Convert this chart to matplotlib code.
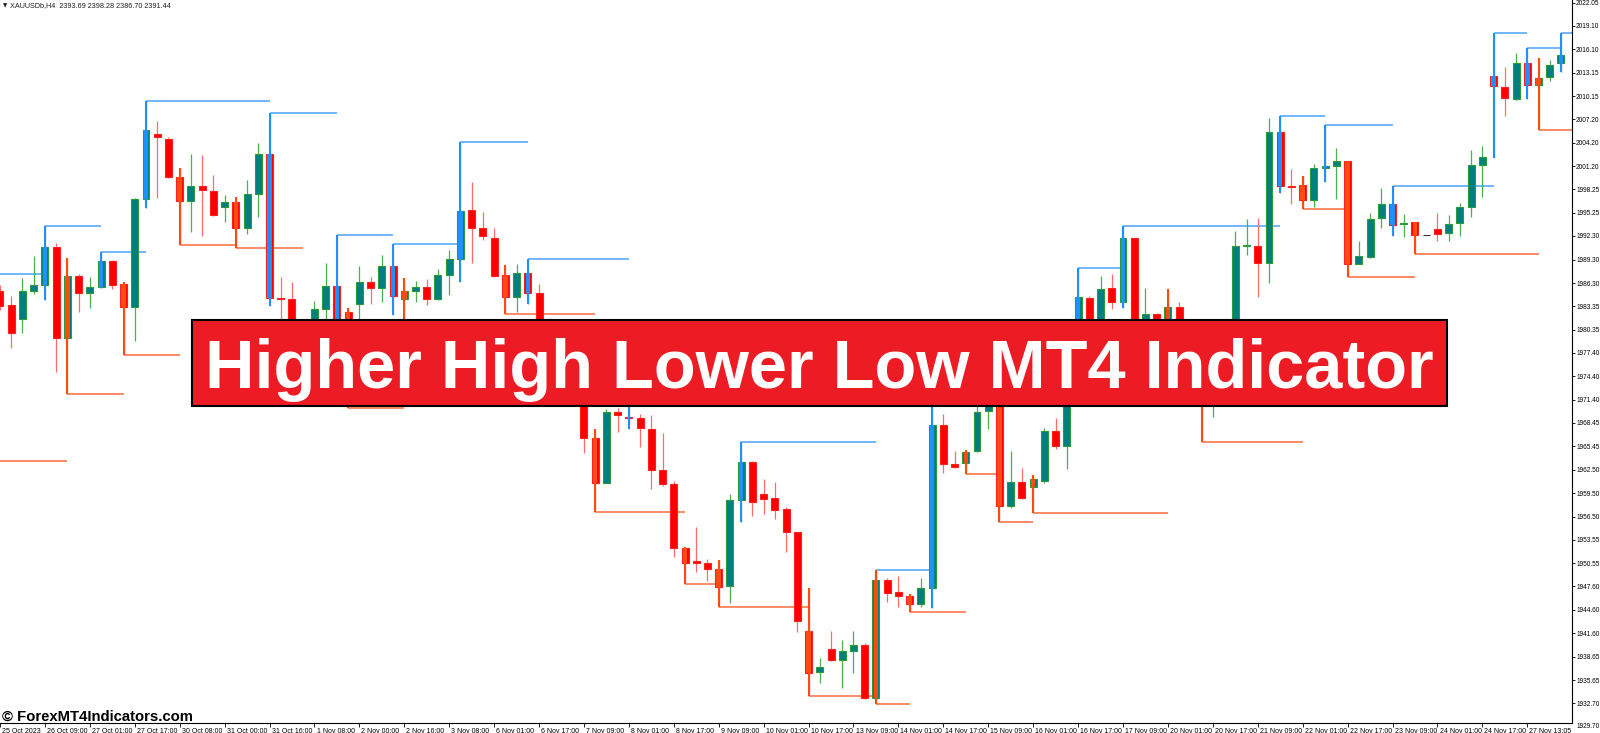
import matplotlib
matplotlib.use("Agg")
from matplotlib import pyplot as plt
from matplotlib.patches import Rectangle
from matplotlib.transforms import ScaledTranslation
import numpy as np

# XAUUSD H4 candles (bars hidden by the banner are guesses)
opens = [1985.32, 1983.45, 1981.67, 1985.28, 1986.00, 1990.85, 1979.33, 1987.20, 1984.99, 1985.75,
         1989.15, 1986.18, 1983.28, 1996.97, 2005.31, 2004.67, 1999.78, 1996.81, 1998.72, 1998.04,
         1996.04, 1996.59, 1993.28, 1997.65, 2002.71, 1984.43, 1984.22, 1979.00, 1977.00, 1982.94,
         1985.92, 1982.56, 1983.58, 1986.47, 1985.62, 1988.47, 1984.22, 1985.28, 1985.83, 1984.22,
         1987.37, 1989.32, 1995.61, 1993.36, 1992.00, 1987.32, 1984.56, 1987.54, 1985.07, 1978.00,
         1975.50, 1973.00, 1974.50, 1966.58, 1960.84, 1969.81, 1969.26, 1969.13, 1967.64, 1962.46,
         1960.67, 1952.55, 1950.85, 1950.55, 1949.83, 1947.70, 1958.63, 1963.52, 1959.35, 1958.84,
         1957.48, 1954.50, 1941.92, 1936.65, 1939.62, 1938.22, 1939.37, 1940.13, 1933.33, 1948.43,
         1946.85, 1946.38, 1945.32, 1947.45, 1968.20, 1963.22, 1963.31, 1964.88, 1969.98, 1973.00,
         1957.86, 1960.97, 1960.25, 1961.10, 1967.43, 1965.52, 1974.50, 1984.43, 1979.00, 1985.62,
         1983.84, 1992.09, 1979.50, 1982.31, 1978.00, 1983.20, 1977.00, 1974.00, 1971.50, 1976.00,
         1979.50, 1991.00, 1991.06, 1988.81, 2005.52, 1998.72, 1998.80, 1996.89, 2001.02, 2001.27,
         2001.86, 1988.73, 1989.58, 1994.55, 1996.34, 1993.79, 1994.04, 1992.42, 1993.15, 1992.64,
         1993.91, 1995.95, 2001.35, 2012.71, 2011.26, 2009.77, 2014.41, 2011.56, 2012.54, 2014.32]
highs = [1986.05, 1984.64, 1986.89, 1989.79, 1993.60, 1991.36, 1989.45, 1987.41, 1987.03, 1990.21,
         1989.24, 1986.47, 1997.10, 2009.56, 2006.97, 2004.88, 2000.93, 2002.76, 2002.59, 2000.08,
         1997.53, 1997.31, 1999.44, 2004.20, 2007.94, 1987.03, 1986.43, 1980.50, 1984.01, 1988.90,
         1992.43, 1983.16, 1988.51, 1987.03, 1989.87, 1991.24, 1986.90, 1986.56, 1986.77, 1988.05,
         1990.51, 2004.30, 1999.23, 1995.32, 1993.36, 1988.56, 1988.68, 1989.32, 1986.17, 1981.90,
         1976.50, 1976.00, 1975.50, 1967.64, 1970.19, 1970.32, 1974.50, 1969.60, 1969.47, 1967.13,
         1961.10, 1952.60, 1955.23, 1951.06, 1950.98, 1959.35, 1966.07, 1963.60, 1961.27, 1960.97,
         1957.69, 1954.60, 1947.36, 1938.43, 1941.92, 1940.77, 1941.92, 1940.35, 1949.70, 1948.64,
         1948.98, 1946.64, 1948.64, 1972.80, 1969.60, 1964.88, 1965.01, 1971.50, 1974.50, 1974.00,
         1964.88, 1962.75, 1961.82, 1967.77, 1969.05, 1976.00, 1988.17, 1984.69, 1987.24, 1987.45,
         1993.62, 1992.10, 1985.62, 1982.50, 1985.54, 1983.84, 1978.00, 1975.00, 1977.00, 1980.50,
         1992.93, 1994.47, 1994.64, 2007.39, 2007.65, 2000.85, 2000.00, 2001.48, 2006.46, 2003.48,
         2001.90, 1991.66, 1995.19, 1998.46, 1998.68, 1995.06, 1994.13, 1992.42, 1995.19, 1994.98,
         1996.55, 2003.27, 2003.78, 2018.15, 2013.81, 2015.60, 2016.32, 2014.96, 2014.75, 2018.15]
lows = [1982.86, 1978.05, 1979.88, 1984.86, 1984.14, 1975.00, 1972.10, 1982.65, 1983.16, 1985.62,
        1985.50, 1977.12, 1978.90, 1995.91, 1997.10, 1999.65, 1991.15, 1992.85, 1992.30, 1994.89,
        1994.13, 1990.73, 1992.55, 1994.68, 1983.41, 1980.95, 1977.50, 1972.50, 1976.00, 1980.80,
        1976.50, 1970.31, 1980.00, 1983.58, 1983.92, 1982.22, 1976.00, 1983.92, 1983.50, 1984.10,
        1984.77, 1986.39, 1988.81, 1991.79, 1987.03, 1982.31, 1982.56, 1983.62, 1976.00, 1974.00,
        1971.50, 1971.50, 1964.58, 1957.14, 1960.80, 1967.26, 1967.64, 1965.43, 1960.00, 1960.41,
        1951.40, 1947.87, 1949.49, 1948.30, 1945.02, 1945.45, 1955.87, 1956.59, 1956.84, 1956.16,
        1951.95, 1941.84, 1933.63, 1935.25, 1938.13, 1934.69, 1936.52, 1933.20, 1932.60, 1945.66,
        1945.02, 1944.39, 1944.94, 1944.81, 1962.03, 1962.75, 1961.95, 1964.80, 1967.64, 1955.87,
        1957.57, 1958.80, 1956.93, 1960.84, 1965.09, 1962.58, 1973.50, 1977.00, 1978.00, 1982.94,
        1983.07, 1976.50, 1977.50, 1976.00, 1974.50, 1975.50, 1972.00, 1966.00, 1969.17, 1974.50,
        1978.50, 1989.87, 1984.56, 1986.35, 1997.83, 1996.38, 1995.70, 1996.04, 1999.23, 1997.02,
        1987.11, 1988.70, 1989.50, 1993.36, 1992.30, 1992.21, 1990.00, 1992.42, 1991.66, 1991.66,
        1992.30, 1994.68, 1997.32, 2002.20, 2007.60, 2009.65, 2009.77, 2005.82, 2012.11, 2013.26]
closes = [1983.41, 1979.97, 1985.32, 1986.00, 1990.85, 1979.25, 1987.20, 1984.99, 1985.75, 1989.15,
          1986.09, 1983.28, 1996.97, 2005.82, 2004.88, 1999.78, 1996.81, 1998.72, 1998.12, 1994.98,
          1996.59, 1993.28, 1997.65, 2002.71, 1984.43, 1984.22, 1979.00, 1977.00, 1982.99, 1985.92,
          1978.00, 1976.50, 1986.47, 1985.62, 1988.47, 1984.64, 1985.28, 1985.83, 1984.22, 1987.37,
          1989.32, 1995.44, 1993.27, 1992.34, 1987.24, 1984.56, 1987.54, 1984.98, 1978.00, 1975.50,
          1973.00, 1975.00, 1966.58, 1960.84, 1969.81, 1969.47, 1969.05, 1967.77, 1962.46, 1960.63,
          1952.55, 1950.55, 1950.55, 1949.83, 1947.57, 1958.63, 1963.52, 1958.33, 1958.76, 1957.35,
          1954.59, 1943.20, 1936.52, 1937.29, 1938.22, 1939.37, 1940.13, 1933.33, 1948.43, 1946.72,
          1946.38, 1945.32, 1947.45, 1968.20, 1963.22, 1962.88, 1964.80, 1969.90, 1973.00, 1957.91,
          1960.97, 1958.84, 1961.27, 1967.43, 1965.52, 1974.50, 1984.56, 1979.00, 1985.54, 1983.84,
          1992.09, 1978.50, 1982.31, 1979.00, 1983.20, 1977.00, 1974.00, 1971.50, 1976.00, 1979.50,
          1991.02, 1991.10, 1988.90, 2005.52, 1998.72, 1998.55, 1996.89, 2000.93, 2001.27, 2001.86,
          1988.73, 1989.79, 1994.42, 1996.38, 1993.70, 1994.00, 1992.42, 1992.42, 1992.51, 1993.79,
          1995.95, 2001.35, 2002.42, 2011.43, 2009.86, 2014.41, 2011.56, 2012.41, 2014.11, 2015.38]

# indicator: bar that made the higher high / lower low and the bar where its level line stops
hh_bars = [4, 9, 13, 24, 30, 35, 41, 47, 56, 66, 78, 83, 96, 100, 114, 118, 124, 133, 136, 139]
hh_ends = [9, 13, 24, 30, 35, 41, 47, 56, 66, 78, 83, 96, 100, 114, 118, 124, 133, 136, 139, 140]
ll_bars = [6, 11, 16, 21, 27, 31, 36, 45, 53, 61, 64, 72, 78, 81, 86, 89, 92, 104, 107, 116, 120, 126, 137]
ll_ends = [11, 16, 21, 27, 31, 36, 45, 53, 61, 64, 72, 78, 81, 86, 89, 92, 104, 107, 116, 120, 126, 137, 140]
# levels left over from before the first visible bar
old_hh_level, old_hh_end = 1987.45, 4
old_ll_level, old_ll_end = 1963.54, 6

price_ticks = [2022.05, 2019.10, 2016.10, 2013.15, 2010.15, 2007.20, 2004.20, 2001.20, 1998.25,
               1995.25, 1992.30, 1989.30, 1986.30, 1983.35, 1980.35, 1977.40, 1974.40, 1971.40,
               1968.45, 1965.45, 1962.50, 1959.50, 1956.50, 1953.55, 1950.55, 1947.60, 1944.60,
               1941.60, 1938.65, 1935.65, 1932.70, 1929.70]
date_labels = ["25 Oct 2023", "26 Oct 09:00", "27 Oct 01:00", "27 Oct 17:00", "30 Oct 08:00",
               "31 Oct 00:00", "31 Oct 16:00", "1 Nov 08:00", "2 Nov 00:00", "2 Nov 16:00",
               "3 Nov 08:00", "6 Nov 01:00", "6 Nov 17:00", "7 Nov 09:00", "8 Nov 01:00",
               "8 Nov 17:00", "9 Nov 09:00", "10 Nov 01:00", "10 Nov 17:00", "13 Nov 09:00",
               "14 Nov 01:00", "14 Nov 17:00", "15 Nov 09:00", "16 Nov 01:00", "16 Nov 17:00",
               "17 Nov 09:00", "20 Nov 01:00", "20 Nov 17:00", "21 Nov 09:00", "22 Nov 01:00",
               "22 Nov 17:00", "23 Nov 09:00", "24 Nov 01:00", "24 Nov 17:00", "27 Nov 13:05"]
date_bars = list(range(0, 137, 4))

header = "XAUUSDb,H4  2393.69 2398.28 2386.70 2391.44"
title = "Higher High Lower Low MT4 Indicator"
watermark = "\u00a9 ForexMT4Indicators.com"

BULL_FILL, BULL_EDGE, BULL_WICK = "#007F7F", "#2A9A3A", "#4CAF50"
BEAR_FILL, BEAR_EDGE, BEAR_WICK = "#FF0000", "#FF2020", "#FF6B6B"
HH_COL, LL_COL = "#1E90FF", "#FF4A12"
HH_LINE, LL_LINE = "#4AA3FF", "#FF6A3D"

W, H = 1600, 733
fig = plt.figure(figsize=(W / 100, H / 100), dpi=100)
ax = fig.add_axes([0, 10 / H, 1572 / W, 723 / H])

o = np.array(opens)
hi = np.array(highs)
lo = np.array(lows)
c = np.array(closes)
x = np.arange(len(o))
up = c > o
doji = c == o

# level lines
ax.hlines(old_hh_level, -5, old_hh_end, color=HH_LINE, lw=1.1, zorder=1)
ax.hlines(old_ll_level, -5, old_ll_end, color=LL_LINE, lw=1.1, zorder=1)
for b, e in zip(hh_bars, hh_ends):
    ax.hlines(hi[b], b, e, color=HH_LINE, lw=1.1, zorder=1)
for b, e in zip(ll_bars, ll_ends):
    ax.hlines(lo[b], b, e, color=LL_LINE, lw=1.1, zorder=1)

# plain candles
wick_cols = np.where(up, BULL_WICK, BEAR_WICK)
ax.vlines(x, lo, hi, colors=wick_cols, lw=0.9, zorder=2)
body_w = 0.62
fills = np.where(up, BULL_FILL, BEAR_FILL)
edges = np.where(up, BULL_EDGE, BEAR_EDGE)
edges = np.where(doji, "#333333", edges)
ax.bar(x, c - o, bottom=o, width=body_w, color=fills, edgecolor=edges, linewidth=0.8, zorder=3)

# indicator paint on the marked bars
for bars, col in ((hh_bars, HH_COL), (ll_bars, LL_COL)):
    bars = np.array(bars)
    ax.vlines(bars, lo[bars], hi[bars], colors=col, lw=1.5, zorder=4)
    bot = np.minimum(o[bars], c[bars])
    ax.bar(bars, np.abs(c[bars] - o[bars]), bottom=bot, width=0.4, color=col, linewidth=0, zorder=4)

y_bottom = 2022.40 - 723 * 0.12755
ax.set_xlim(0, 1572 / 11.23)
ax.set_ylim(y_bottom, 2022.40)

for s in ["left", "top"]:
    ax.spines[s].set_visible(False)
ax.spines["right"].set_linewidth(0.8)
ax.spines["bottom"].set_linewidth(0.8)

ax.yaxis.tick_right()
inside = [t for t in price_ticks if t >= y_bottom]
ax.set_yticks(inside)
ax.set_yticklabels([f"{t:.2f}" for t in inside])
ax.tick_params(axis="y", direction="out", length=2, width=0.6, pad=1, labelsize=4.7)
for t in price_ticks:
    if t < y_bottom:
        ax.annotate(f"{t:.2f}", xy=(1, t), xycoords=("axes fraction", "data"),
                    xytext=(3, 0), textcoords="offset points", va="center", ha="left",
                    fontsize=4.7, family="Liberation Sans", annotation_clip=False)

ax.set_xticks(date_bars)
ax.set_xticklabels(date_labels, ha="left")
ax.tick_params(axis="x", direction="out", length=3, width=0.6, pad=0.5, labelsize=5.0)
shift = ScaledTranslation(1.5 / 72, 0, fig.dpi_scale_trans)
for lab in ax.get_xticklabels():
    lab.set_transform(lab.get_transform() + shift)
for lab in ax.get_xticklabels() + ax.get_yticklabels():
    lab.set_family("Liberation Sans")

# header
fig.text(3 / W, 1 - 6 / H, "\u25bc", fontsize=4, va="center", ha="left", color="#222222",
         family=["DejaVu Sans"])
fig.text(10 / W, 1 - 6 / H, header, fontsize=5.2, va="center", ha="left", color="#222222",
         family=["Liberation Sans", "DejaVu Sans"])

# banner
fig.add_artist(Rectangle((192 / W, 1 - 406 / H), (1447 - 192) / W, (406 - 319.5) / H,
                         transform=fig.transFigure, facecolor="#ED1C24", edgecolor="black",
                         lw=1.5, zorder=10))
ttl = fig.text(819.5 / W, 1 - 388 / H, title, fontsize=44, fontweight="bold", color="white",
               ha="center", va="baseline", family="Liberation Sans", zorder=11)
wm = fig.text(2 / W, 1 - 721 / H, watermark, fontsize=9.5, fontweight="bold", color="black",
              ha="left", va="baseline", family="Liberation Sans", zorder=11)

fig.canvas.draw()
r = fig.canvas.get_renderer()
ttl.set_fontsize(44 * 1230 / ttl.get_window_extent(r).width)
wm.set_fontsize(9.5 * 192 / wm.get_window_extent(r).width)

fig.savefig("out.png", dpi=100, facecolor="white")
